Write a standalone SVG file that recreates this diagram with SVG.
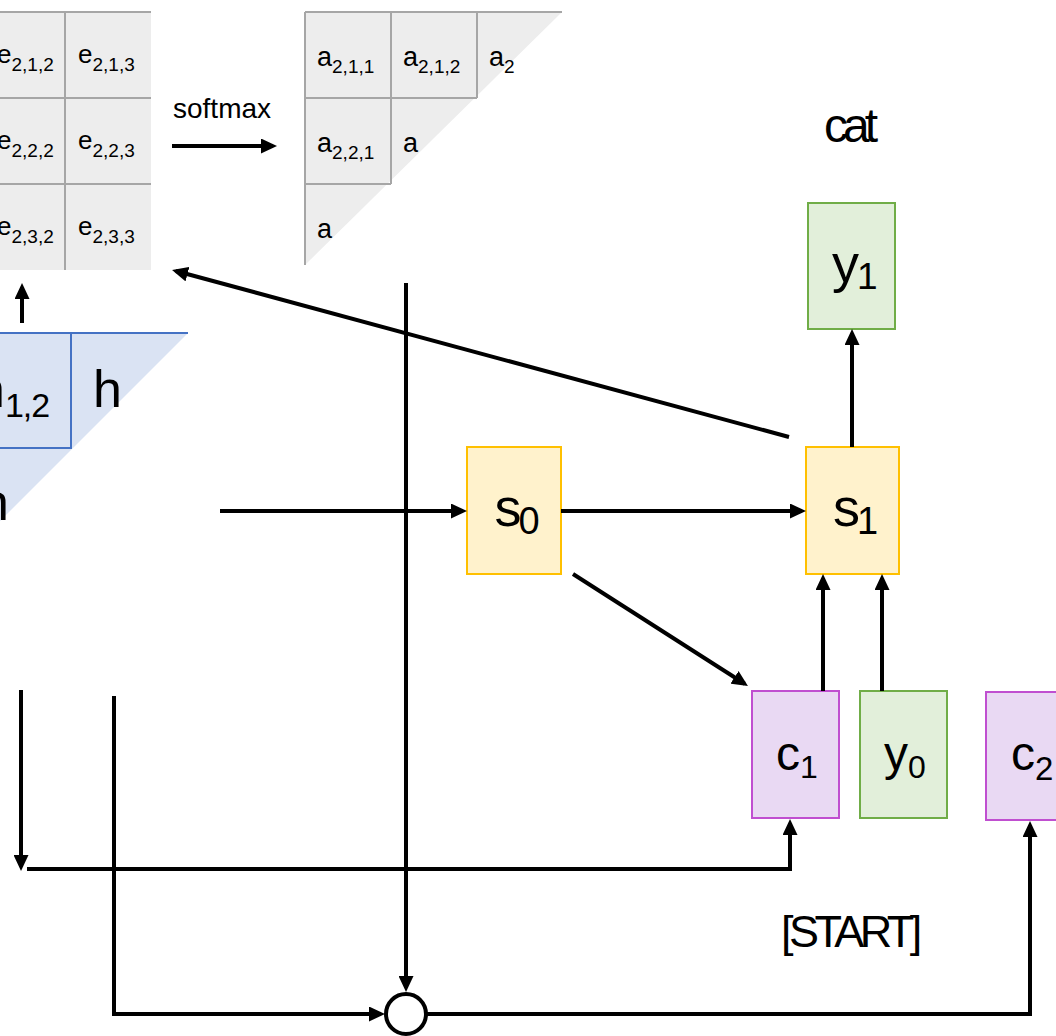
<svg xmlns="http://www.w3.org/2000/svg" width="1056" height="1036" viewBox="0 0 1056 1036">
<style>
text{font-family:"Liberation Sans",Arial,sans-serif;fill:#000}
.grid{stroke:#a6a6a6;stroke-width:2;fill:none}
.blue{stroke:#4472c4;stroke-width:2;fill:none}
.conn{stroke:#000;stroke-width:4;fill:none;marker-end:url(#arr)}
.yel{fill:#fff2cc;stroke:#ffc000;stroke-width:2}
.pur{fill:#e9d9f3;stroke:#c04fd0;stroke-width:2}
.grn{fill:#e2efda;stroke:#70ad47;stroke-width:2}
.e{font-size:26px}
.a{font-size:27px}
.sub{font-size:19px}
</style>
<defs>
<marker id="arr" viewBox="0 0 16 15" refX="12" refY="7.5" markerWidth="16" markerHeight="15" markerUnits="userSpaceOnUse" orient="auto">
<path d="M0,0 L16,7.5 L0,15 z" fill="#000"/>
</marker>
</defs>

<g id="e-matrix">
<rect x="0" y="12" width="151" height="258" fill="#ededed"/>
<path class="grid" d="M0,12 H151 M0,98 H151 M0,184 H151 M65,12 V270"/>
<text class="e" x="-3" y="63">e<tspan class="sub" dy="8">2,1,2</tspan></text>
<text class="e" x="78" y="63">e<tspan class="sub" dy="8">2,1,3</tspan></text>
<text class="e" x="-3" y="149">e<tspan class="sub" dy="8">2,2,2</tspan></text>
<text class="e" x="78" y="149">e<tspan class="sub" dy="8">2,2,3</tspan></text>
<text class="e" x="-3" y="235">e<tspan class="sub" dy="8">2,3,2</tspan></text>
<text class="e" x="78" y="235">e<tspan class="sub" dy="8">2,3,3</tspan></text>
</g>

<g id="softmax-label">
<text x="173" y="118" font-size="28">softmax</text>
</g>

<g id="a-matrix">
<polygon points="305,12 562,12 305,265" fill="#ededed"/>
<path class="grid" d="M305,12 H562 M305,12 V265 M391,12 V184 M477,12 V98 M305,98 H477 M305,184 H391"/>
<text class="a" x="317" y="66">a<tspan class="sub" dy="7">2,1,1</tspan></text>
<text class="a" x="403" y="66">a<tspan class="sub" dy="7">2,1,2</tspan></text>
<text class="a" x="489" y="66">a<tspan class="sub" dy="7">2</tspan></text>
<text class="a" x="317" y="152">a<tspan class="sub" dy="7">2,2,1</tspan></text>
<text class="a" x="403" y="152">a</text>
<text class="a" x="317" y="238">a</text>
</g>

<g id="h-matrix">
<polygon points="0,333 188,333 0,521" fill="#dae3f3"/>
<path class="blue" d="M0,333 H188 M71,333 V448 M0,448 H72"/>
<text x="-24" y="407" font-size="52">h<tspan font-size="34" dy="10" letter-spacing="-1">1,2</tspan></text>
<text x="93" y="407" font-size="52">h</text>
<text x="-20" y="520" font-size="52">h</text>
</g>

<g id="cat-label">
<text x="824" y="142" font-size="48" letter-spacing="-5">cat</text>
</g>

<g id="y1">
<rect class="grn" x="808" y="203" width="87" height="126"/>
<text x="832" y="282" font-size="54">y<tspan font-size="37" dx="-2" dy="7">1</tspan></text>
</g>

<g id="s0">
<rect class="yel" x="467" y="447" width="94" height="127"/>
<text x="494.5" y="526" font-size="54">s<tspan font-size="38" dx="-3" dy="8">0</tspan></text>
</g>

<g id="s1">
<rect class="yel" x="806" y="447" width="93" height="127"/>
<text x="833" y="526" font-size="54">s<tspan font-size="38" dx="-3" dy="8">1</tspan></text>
</g>

<g id="c1">
<rect class="pur" x="752" y="691" width="87" height="127"/>
<text x="776" y="770" font-size="48">c<tspan font-size="32" dy="8">1</tspan></text>
</g>

<g id="y0">
<rect class="grn" x="860" y="691" width="87" height="127"/>
<text x="884" y="770" font-size="48">y<tspan font-size="32" dy="8">0</tspan></text>
</g>

<g id="c2">
<rect class="pur" x="986" y="692" width="90" height="128"/>
<text x="1011" y="770" font-size="48">c<tspan font-size="33" dy="10">2</tspan></text>
</g>

<g id="start-label">
<text x="781" y="947" font-size="45" letter-spacing="-4.5">[START]</text>
</g>

<g id="sum">
<circle cx="406" cy="1014" r="20" fill="#fff" stroke="#000" stroke-width="4"/>
</g>

<g id="connectors">
<path class="conn" d="M172,146 H273"/>
<path class="conn" d="M789,437 L175.9,271"/>
<path class="conn" d="M22,323 V287"/>
<path class="conn" d="M220,511 H463"/>
<path class="conn" d="M561,511 H802"/>
<path class="conn" d="M573,574 L744.6,683.8"/>
<path class="conn" d="M823,691 V578"/>
<path class="conn" d="M882,691 V578"/>
<path class="conn" d="M852,447 V333"/>
<path class="conn" d="M406,283 V988"/>
<path class="conn" d="M21,690 V867"/>
<path class="conn" d="M27,869 H790 V823"/>
<path class="conn" d="M114,696 V1014 H381"/>
<path class="conn" d="M426,1014 H1030 V825"/>
</g>
</svg>
